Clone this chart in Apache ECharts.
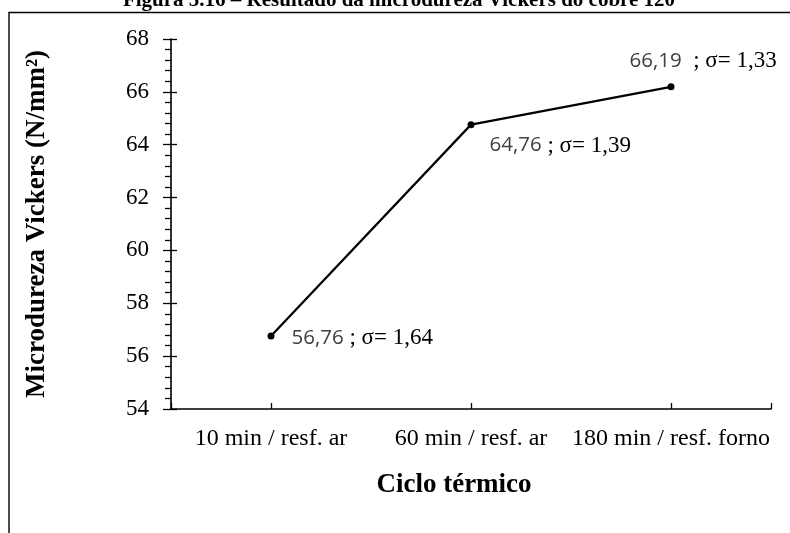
<!DOCTYPE html>
<html>
<head>
<meta charset="utf-8">
<script src="https://cdn.jsdelivr.net/npm/echarts@6/dist/echarts.min.js"></script>
<style>
html,body{margin:0;padding:0;background:#fff;}
#c{width:790px;height:533px;}
</style>
</head>
<body>
<div id="c"></div>
<script>
const categories = ['10 min / resf. ar', '60 min / resf. ar', '180 min / resf. forno'];
const hardness = [56.76, 64.76, 66.19];
const sigma = [1.64, 1.39, 1.33];
const separators = [' ', ' ', '  '];
const yTicks = { min: 54, max: 68, interval: 2 };
const captionText = 'Figura 5.16 – Resultado da microdureza Vickers do cobre 120';
const xTitle = 'Ciclo térmico';
const yTitle = 'Microdureza Vickers (N/mm²)';

const serif = '"Liberation Serif", "Times New Roman", serif';
const fmt = v => v.toFixed(2).replace('.', ',');

const labelOffsets = [[12, 2], [10, 21], [-50, -26]];

const chart = echarts.init(document.getElementById('c'), null, { renderer: 'canvas' });

const seriesData = hardness.map((v, i) => ({
  value: v,
  label: {
    show: true,
    position: 'right',
    offset: labelOffsets[i],
    formatter: '{v|' + fmt(v) + '}{s|' + separators[i] + '; σ= ' + fmt(sigma[i]) + '}',
    rich: {
      v: { fontFamily: '"Open Sans", "Noto Sans", sans-serif', fontSize: 20.5, color: '#404040' },
      s: { fontFamily: serif, fontSize: 23, color: '#000' }
    }
  }
}));

chart.setOption({
  animation: false,
  backgroundColor: '#fff',
  grid: { left: 171, right: 19, top: 39, bottom: 124, containLabel: false },
  graphic: [
    {
      type: 'rect',
      shape: { x: 9, y: 12.5, width: 900, height: 700 },
      style: { fill: 'none', stroke: '#000', lineWidth: 1.4 },
      silent: true
    },
    {
      type: 'text',
      x: 399, y: 11,
      style: {
        text: captionText,
        font: 'bold 21px ' + serif,
        fill: '#000',
        textAlign: 'center',
        textVerticalAlign: 'bottom'
      }
    },
    {
      type: 'text',
      x: 454, y: 485,
      style: {
        text: xTitle,
        font: 'bold 27px ' + serif,
        fill: '#000',
        textAlign: 'center',
        textVerticalAlign: 'middle'
      }
    }
  ],
  xAxis: [
    {
      type: 'category',
      data: categories,
      boundaryGap: true,
      axisLine: { show: true, lineStyle: { color: '#000', width: 1.6 } },
      axisTick: { show: true, alignWithLabel: true, inside: true, length: 6, lineStyle: { color: '#000', width: 1.3 } },
      axisLabel: { interval: 0, color: '#000', fontFamily: serif, fontSize: 24, margin: 18 },
      splitLine: { show: false }
    },
    {
      type: 'value',
      min: 0, max: 3, interval: 3,
      position: 'bottom',
      axisLine: { show: false },
      axisTick: { show: true, inside: true, length: 6, lineStyle: { color: '#000', width: 1.3 } },
      axisLabel: { show: false },
      splitLine: { show: false }
    }
  ],
  yAxis: [
    {
      type: 'value',
      min: yTicks.min, max: yTicks.max, interval: yTicks.interval,
      name: yTitle,
      nameLocation: 'middle',
      nameRotate: 90,
      nameGap: 120,
      nameTextStyle: { fontFamily: serif, fontSize: 27, fontWeight: 'bold', color: '#000' },
      axisLine: { show: true, lineStyle: { color: '#000', width: 1.6 } },
      axisTick: { show: true, inside: false, length: 8, lineStyle: { color: '#000', width: 1.3 } },
      minorTick: { show: true, splitNumber: 5, length: 6, lineStyle: { color: '#000', width: 1.3 } },
      axisLabel: { color: '#000', fontFamily: serif, fontSize: 23, margin: 22 },
      splitLine: { show: false },
      minorSplitLine: { show: false }
    },
    {
      type: 'value',
      min: yTicks.min, max: yTicks.max, interval: yTicks.interval,
      position: 'left',
      axisLine: { show: false },
      axisTick: { show: true, inside: true, length: 6, lineStyle: { color: '#000', width: 1.3 } },
      axisLabel: { show: false },
      splitLine: { show: false }
    }
  ],
  series: [
    {
      type: 'line',
      data: seriesData,
      xAxisIndex: 0,
      yAxisIndex: 0,
      symbol: 'circle',
      symbolSize: 7,
      lineStyle: { color: '#000', width: 2.2 },
      itemStyle: { color: '#000' },
      z: 5
    }
  ]
});
</script>
</body>
</html>
